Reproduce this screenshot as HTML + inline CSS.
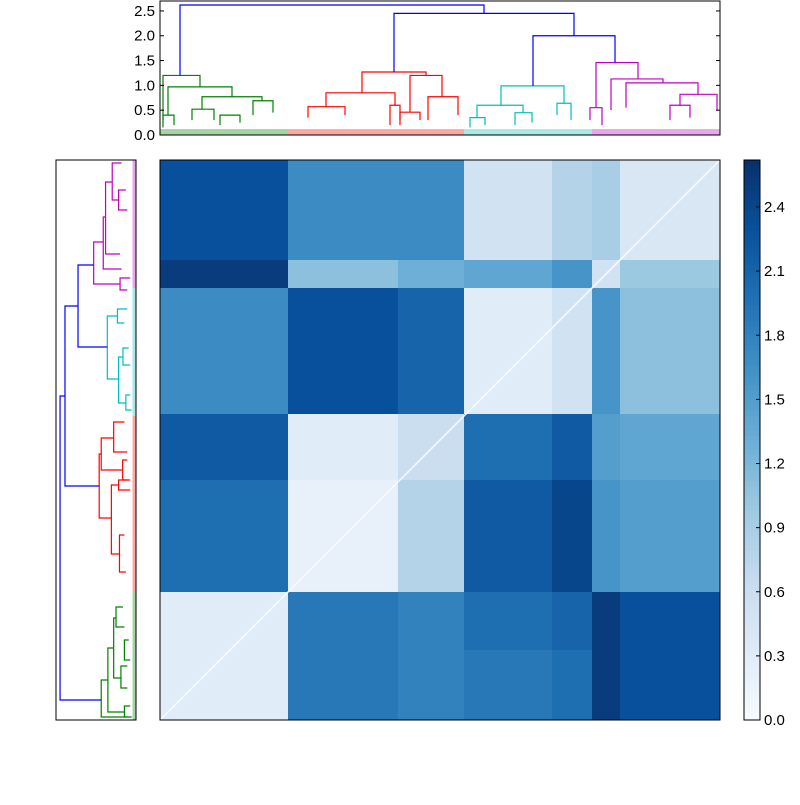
<!DOCTYPE html>
<html><head><meta charset="utf-8"><style>
body{margin:0;background:#fff;}
svg text{font-family:"Liberation Sans",sans-serif;font-size:15px;fill:#000;}
</style></head><body>
<svg id="fig" width="800" height="800" viewBox="0 0 800 800" xmlns="http://www.w3.org/2000/svg">
<rect width="800" height="800" fill="#fff"/>
<g id="heat"></g>
<g id="topd"></g>
<g id="leftd"></g>
<g id="cbar"></g>
</svg>
<script>
// ---- heatmap data (block distances) ----
const colBlocks = [128, 110, 66, 88, 40, 28, 100];   // leaf counts per column block (left to right)
const rowBlocks = [100, 28, 126, 66, 112, 58, 70];   // leaf counts per row block (top to bottom)
const rowValues0 = [2.3, 1.7, 1.7, 0.5, 0.8, 0.9, 0.4];
const rowValues1 = [2.5, 1.1, 1.3, 1.4, 1.6, 0.5, 1.0];
const rowValues2 = [1.7, 2.3, 2.1, 0.3, 0.5, 1.6, 1.1];
const rowValues3 = [2.2, 0.3, 0.6, 2.0, 2.2, 1.5, 1.4];
const rowValues4 = [2.0, 0.2, 0.8, 2.2, 2.4, 1.6, 1.5];
const rowValues5 = [0.3, 1.9, 1.8, 2.0, 2.1, 2.5, 2.3];
const rowValues6 = [0.3, 1.9, 1.8, 1.9, 2.0, 2.5, 2.3];
const matrix = [rowValues0,rowValues1,rowValues2,rowValues3,rowValues4,rowValues5,rowValues6];
const vmax = 2.62;
const cbTicks = ["0.0","0.3","0.6","0.9","1.2","1.5","1.8","2.1","2.4"];
const dendTicks = ["0.0","0.5","1.0","1.5","2.0","2.5"];
// dendrogram links: [leftLeaf, rightLeaf, leftChildHeight, rightChildHeight, height] (leaf coord 0..560)
const blueLinks = [[20,324,1.2,2.45,2.62],[234,414,1.27,2.0,2.45],[373,455,0.99,1.46,2.0]];
const greenLinks = [[3,40,0.3,0.97,1.2],[8,72,0.4,0.77,0.97],[42,102,0.52,0.69,0.77],[32,54,0.3,0.3,0.52],[93,113,0.4,0.45,0.69],[3,14,0.15,0.2,0.4],[60,80,0.2,0.25,0.4]];
const redLinks = [[202,266,0.85,1.2,1.27],[166,235,0.57,0.6,0.85],[148,185,0.35,0.4,0.57],[250,282,0.46,0.77,1.2],[268,298,0.3,0.4,0.77],[240,260,0.2,0.3,0.46],[230,240,0.2,0.3,0.6]];
const cyanLinks = [[341,404,0.6,0.64,0.99],[317,363,0.35,0.45,0.6],[397,411,0.4,0.3,0.64],[310,325,0.15,0.2,0.35],[355,372,0.2,0.25,0.45]];
const magentaLinks = [[436,478,0.55,1.13,1.46],[451,503,0.5,1.05,1.13],[466,538,0.55,0.82,1.05],[520,557,0.6,0.5,0.82],[430,442,0.3,0.2,0.55],[510,530,0.3,0.35,0.6]];
const clusterSpans = [[0,128,'#008000'],[128,304,'#ff0000'],[304,432,'#00bfbf'],[432,560,'#bf00bf']];

const NS='http://www.w3.org/2000/svg';
function mk(tag,attrs,parent){const e=document.createElementNS(NS,tag);for(const k in attrs)e.setAttribute(k,attrs[k]);parent.appendChild(e);return e;}
const stops=[[0,[247,251,255]],[.125,[222,235,247]],[.25,[198,219,239]],[.375,[158,202,225]],[.5,[107,174,214]],[.625,[66,146,198]],[.75,[33,113,181]],[.875,[8,81,156]],[1,[8,48,107]]];
function cmap(v){let t=Math.max(0,Math.min(1,v/vmax));for(let i=1;i<stops.length;i++){if(t<=stops[i][0]){const a=stops[i-1],b=stops[i];const f=(t-a[0])/(b[0]-a[0]);const c=a[1].map((x,j)=>Math.round(x+(b[1][j]-x)*f));return `rgb(${c})`;}}return 'rgb(8,48,107)';}

// heatmap
const HX=160,HY=160,HS=560;
const heat=document.getElementById('heat');
const totC=colBlocks.reduce((a,b)=>a+b,0),totR=rowBlocks.reduce((a,b)=>a+b,0);
const xs=c=>HX+c/totC*HS, ys=r=>HY+r/totR*HS;
let r0=0;
rowBlocks.forEach((rh,i)=>{let c0=0;colBlocks.forEach((cw,j)=>{
  const cell=mk('rect',{x:xs(c0),y:ys(r0),width:xs(c0+cw)-xs(c0)+0.5,height:ys(r0+rh)-ys(r0)+0.5,fill:cmap(matrix[i][j])},heat);
  
  
  c0+=cw;});r0+=rh;});
const diag=mk('line',{x1:HX+HS,y1:HY,x2:HX,y2:HY+HS,stroke:'#f7fbff','stroke-width':1.5},heat);


mk('rect',{x:HX,y:HY,width:HS,height:HS,fill:'none',stroke:'#000','stroke-width':1},heat);

// top dendrogram
const TY0=135,TY1=1,TMAX=2.7;
const topd=document.getElementById('topd');
const leftd=document.getElementById('leftd');
const tx=l=>160+l, ty=h=>TY0-h/TMAX*(TY0-TY1);
const lx=h=>136-h/2.76*80, ly=l=>720-l;
function drawLinks(links,color){
  links.forEach(k=>{
    const p=mk('path',{d:`M${tx(k[0])},${ty(k[2])}V${ty(k[4])}H${tx(k[1])}V${ty(k[3])}`,fill:'none',stroke:color,'stroke-width':1.2},topd);
    
    
    const q=mk('path',{d:`M${lx(k[2])},${ly(k[0])}H${lx(k[4])}V${ly(k[1])}H${lx(k[3])}`,fill:'none',stroke:color,'stroke-width':1.2},leftd);
    
    
  });
}
clusterSpans.forEach(s=>{
  mk('rect',{x:tx(s[0]),y:ty(0.12),width:s[1]-s[0],height:ty(0)-ty(0.12),fill:s[2],opacity:0.35},topd);
  mk('rect',{x:lx(0.12),y:ly(s[1]),width:lx(0)-lx(0.12),height:s[1]-s[0],fill:s[2],opacity:0.35},leftd);
});
drawLinks(greenLinks,'#008000');drawLinks(redLinks,'#ff0000');drawLinks(cyanLinks,'#00bfbf');drawLinks(magentaLinks,'#bf00bf');drawLinks(blueLinks,'#0000ff');
mk('rect',{x:160,y:TY1,width:560,height:TY0-TY1,fill:'none',stroke:'#000'},topd);
dendTicks.forEach(t=>{const y=ty(+t);
  mk('line',{x1:160,x2:164,y1:y,y2:y,stroke:'#000'},topd);
  mk('line',{x1:716,x2:720,y1:y,y2:y,stroke:'#000'},topd);
  const tt=mk('text',{x:155,y:y+5,'text-anchor':'end'},topd);tt.textContent=t;
  
  
});
mk('rect',{x:56,y:160,width:80,height:560,fill:'none',stroke:'#000'},leftd);

// colorbar
const cb=document.getElementById('cbar');
const CX=744,CW=16,CB0=720,CB1=160;
for(let i=0;i<112;i++){const v=(i+0.5)/112*vmax;mk('rect',{x:CX,y:CB0-(i+1)*5,width:CW,height:5.5,fill:cmap(v)},cb);}
mk('rect',{x:CX,y:CB1,width:CW,height:CB0-CB1,fill:'none',stroke:'#000'},cb);
cbTicks.forEach(t=>{const y=CB0-(+t)/vmax*(CB0-CB1);
  mk('line',{x1:CX+CW-4,x2:CX+CW,y1:y,y2:y,stroke:'#000'},cb);
  const tt=mk('text',{x:764,y:y+5},cb);tt.textContent=t;
  
  
});
</script>
</body></html>
